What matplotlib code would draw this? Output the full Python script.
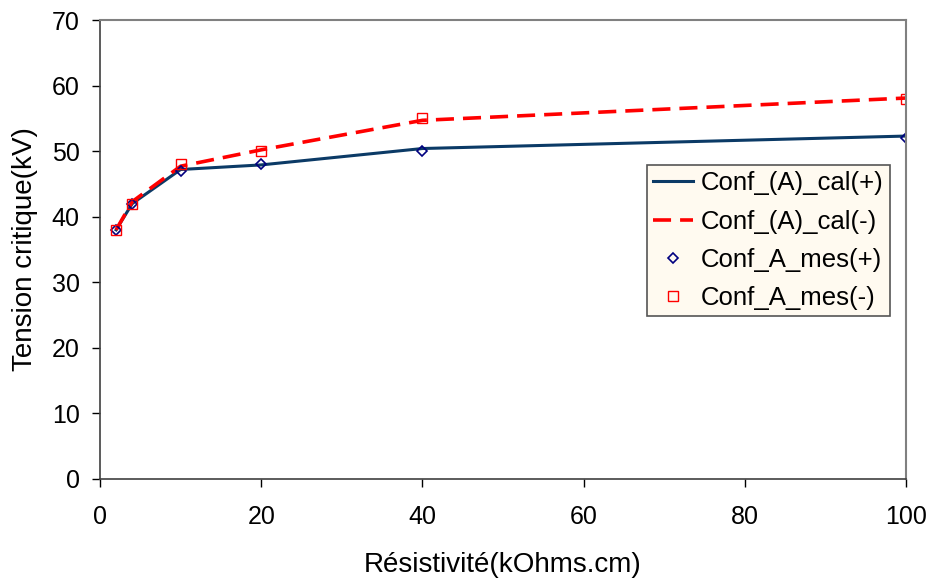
import matplotlib
matplotlib.use("Agg")
import matplotlib.pyplot as plt

plt.rcParams['font.family'] = ['Liberation Sans', 'DejaVu Sans']

resistivity = [2, 4, 10, 20, 40, 100]
cal_pos = [38, 42.0, 47.2, 47.9, 50.4, 52.3]
cal_neg = [38, 42.3, 47.7, 50.2, 54.7, 58.1]
mes_pos = [38, 42, 47, 48, 50, 52]
mes_neg = [38, 42, 48, 50, 55, 58]

fig = plt.figure(figsize=(9.3, 5.82), dpi=100)
ax = fig.add_axes([100/930, 1-479/582, 806/930, 459/582])

l1, = ax.plot(resistivity, cal_pos, color='#0b3a66', lw=2.2, label='Conf_(A)_cal(+)')
l2, = ax.plot(resistivity, cal_neg, color='#ff0000', lw=2.6, dashes=(5, 2.5), label='Conf_(A)_cal(-)')
m1, = ax.plot(resistivity, mes_pos, ls='none', marker='D', ms=5.5, mfc='none', mec='#000080', mew=1.2, label='Conf_A_mes(+)')
m2, = ax.plot(resistivity, mes_neg, ls='none', marker='s', ms=7, mfc='none', mec='#ff0000', mew=1.0, label='Conf_A_mes(-)')

ax.set_xlim(0, 100)
ax.set_ylim(0, 70)
ax.set_xticks([0, 20, 40, 60, 80, 100])
ax.set_yticks(range(0, 71, 10))
ax.tick_params(direction='out', length=6, width=1, labelsize=18, colors='black')
ax.tick_params(axis='y', pad=8.5)
ax.tick_params(axis='x', pad=13)
for s in ['left', 'bottom']:
    ax.spines[s].set_color('#404040')
    ax.spines[s].set_linewidth(1.2)
for s in ['top', 'right']:
    ax.spines[s].set_color('#808080')
    ax.spines[s].set_linewidth(1.5)

ax.set_xlabel('Résistivité(kOhms.cm)', fontsize=20, labelpad=16)
ax.set_ylabel('Tension critique(kV)', fontsize=20, labelpad=10)

leg = ax.legend(handles=[l1, l2, m1, m2], loc='upper left',
                bbox_to_anchor=(647/930, 1-165/582), bbox_transform=fig.transFigure,
                fontsize=18.5, frameon=True, fancybox=False, handlelength=1.55,
                handletextpad=0.3, borderpad=0.25, labelspacing=0.55, borderaxespad=0)
leg.get_frame().set_facecolor('#fffaf0')
leg.get_frame().set_edgecolor('#555555')
leg.get_frame().set_linewidth(1.2)
leg.get_frame().set_alpha(1)

fig.savefig('out.png', dpi=100)
